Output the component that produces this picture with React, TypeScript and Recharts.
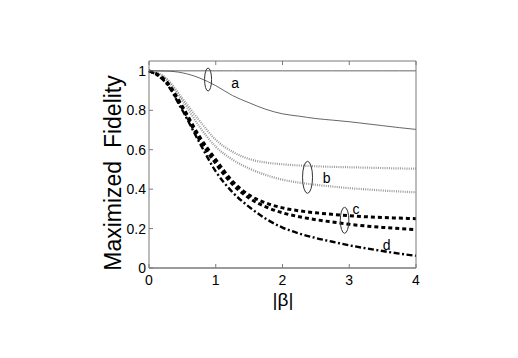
import React from "react";
import {
  LineChart,
  Line,
  XAxis,
  YAxis,
  ReferenceDot,
} from "recharts";

// |beta| sample points
const BETA = [0, 0.25, 0.5, 0.75, 1, 1.25, 1.5, 1.75, 2, 2.25, 2.5, 2.75, 3, 3.25, 3.5, 3.75, 4];

// group a (solid)
const A_TOP = [1, 1, 1, 1, 1, 1, 1, 1, 1, 1, 1, 1, 1, 1, 1, 1, 1];
const A_LOW = [1, 0.999, 0.99, 0.965, 0.925, 0.875, 0.838, 0.805, 0.782, 0.77, 0.758, 0.75, 0.742, 0.732, 0.722, 0.712, 0.703];
// group b (dotted gray)
const B_TOP = [1, 0.965, 0.86, 0.75, 0.65, 0.59, 0.553, 0.535, 0.526, 0.52, 0.516, 0.513, 0.511, 0.509, 0.507, 0.505, 0.504];
const B_LOW = [1, 0.96, 0.85, 0.72, 0.615, 0.55, 0.505, 0.472, 0.448, 0.433, 0.422, 0.413, 0.405, 0.399, 0.393, 0.388, 0.384];
// group c (thick dashed)
const C_TOP = [1, 0.95, 0.82, 0.67, 0.55, 0.44, 0.37, 0.33, 0.305, 0.29, 0.28, 0.272, 0.265, 0.26, 0.256, 0.253, 0.25];
const C_LOW = [1, 0.945, 0.81, 0.655, 0.53, 0.425, 0.355, 0.31, 0.28, 0.26, 0.245, 0.233, 0.222, 0.213, 0.206, 0.2, 0.195];
// d (dash-dot)
const D = [1, 0.94, 0.8, 0.64, 0.49, 0.385, 0.31, 0.25, 0.205, 0.175, 0.152, 0.133, 0.115, 0.1, 0.086, 0.073, 0.062];

const X_TICKS = [0, 1, 2, 3, 4];
const Y_TICKS = [0, 0.2, 0.4, 0.6, 0.8, 1];

// group markers: ellipse centre (data units), size in px, label position
const GROUPS = [
  { name: "a", x: 0.885, y: 0.956, rx: 3.5, ry: 11.5, lx: 1.29, ly: 0.936 },
  { name: "b", x: 2.375, y: 0.46, rx: 5, ry: 16, lx: 2.66, ly: 0.454 },
  { name: "c", x: 2.93, y: 0.242, rx: 4.3, ry: 13, lx: 3.1, ly: 0.3 },
];
const D_LABEL = { name: "d", x: 3.56, y: 0.115 };

const SERIES = [
  { key: "aTop", values: A_TOP, color: "#555", width: 0.9, dash: undefined },
  { key: "aLow", values: A_LOW, color: "#555", width: 0.9, dash: undefined },
  { key: "bTop", values: B_TOP, color: "#9a9a9a", width: 2.2, dash: "1 1.2" },
  { key: "bLow", values: B_LOW, color: "#9a9a9a", width: 2.2, dash: "1 1.2" },
  { key: "cTop", values: C_TOP, color: "#000", width: 3, dash: "4 3" },
  { key: "cLow", values: C_LOW, color: "#000", width: 3, dash: "4 3" },
  { key: "d", values: D, color: "#000", width: 2.4, dash: "6 2.5 2 2.5" },
];

const chartData = BETA.map((b, i) => {
  const row: Record<string, number> = { beta: b };
  SERIES.forEach((s) => (row[s.key] = s.values[i]));
  return row;
});

const FONT = "'Liberation Sans', Arial, Helvetica, sans-serif";
const AXIS = "#7a7a7a";
const tickStyle = { fontSize: 14, fill: "#000", fontFamily: FONT };

const fmtY = (v: number) => (v === 0 || v === 1 ? String(v) : v.toFixed(1));

export default function App() {
  return (
    <div style={{ position: "absolute", left: 0, top: 0, width: 518, height: 358, background: "#fff" }}>
      <LineChart
        width={518}
        height={358}
        data={chartData}
        margin={{ top: 60, right: 101, bottom: 60, left: 89 }}
      >
        <XAxis
          dataKey="beta"
          type="number"
          domain={[0, 4]}
          ticks={X_TICKS}
          height={30}
          tickSize={-4}
          tickMargin={11}
          stroke={AXIS}
          axisLine={{ stroke: AXIS, strokeWidth: 1.6 }}
          tick={tickStyle}
        />
        <XAxis
          xAxisId="top"
          dataKey="beta"
          orientation="top"
          type="number"
          domain={[0, 4]}
          ticks={X_TICKS}
          height={1}
          tickSize={-4}
          stroke={AXIS}
          tickFormatter={() => ""}
        />
        <YAxis
          type="number"
          domain={[0, 1.05]}
          ticks={Y_TICKS}
          width={60}
          tickSize={-4}
          tickMargin={7}
          stroke={AXIS}
          tick={tickStyle}
          tickFormatter={fmtY}
        />
        <YAxis
          yAxisId="right"
          orientation="right"
          type="number"
          domain={[0, 1.05]}
          ticks={Y_TICKS}
          width={1}
          tickSize={-4}
          stroke={AXIS}
          tickFormatter={() => ""}
        />
        {SERIES.map((s) => (
          <Line
            key={s.key}
            type="monotone"
            dataKey={s.key}
            stroke={s.color}
            strokeWidth={s.width}
            strokeDasharray={s.dash}
            dot={false}
            activeDot={false}
            isAnimationActive={false}
          />
        ))}
        {GROUPS.map((g) => (
          <ReferenceDot
            key={`e-${g.name}`}
            x={g.x}
            y={g.y}
            r={1}
            shape={(p: any) => (
              <ellipse cx={p.cx} cy={p.cy} rx={g.rx} ry={g.ry} fill="none" stroke="#333" strokeWidth={1} />
            )}
          />
        ))}
        {[...GROUPS.map((g) => ({ name: g.name, x: g.lx, y: g.ly })), D_LABEL].map((l) => (
          <ReferenceDot
            key={`l-${l.name}`}
            x={l.x}
            y={l.y}
            r={1}
            shape={(p: any) => (
              <text
                x={p.cx}
                y={p.cy}
                textAnchor="middle"
                dominantBaseline="central"
                fontSize={14}
                fontFamily={FONT}
                fill="#000"
              >
                {l.name}
              </text>
            )}
          />
        ))}
      </LineChart>
      <svg
        width={518}
        height={358}
        style={{ position: "absolute", left: 0, top: 0, pointerEvents: "none" }}
      >
        <text
          x={113}
          y={173}
          transform="rotate(-90 113 173)"
          textAnchor="middle"
          dominantBaseline="central"
          fontSize={23}
          fontFamily={FONT}
          fill="#000"
          style={{ whiteSpace: "pre" }}
        >
          Maximized  Fidelity
        </text>
        <text x={283} y={306} textAnchor="middle" fontSize={19} fontFamily={FONT} fill="#000">
          |β|
        </text>
      </svg>
    </div>
  );
}
